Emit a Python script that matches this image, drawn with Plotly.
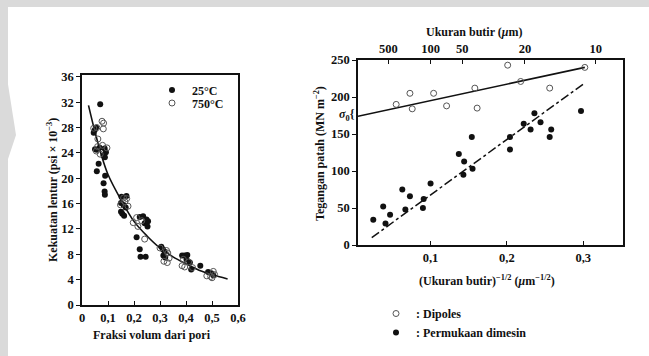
import plotly.graph_objects as go

W, H = 649, 356

# ---------------- Left chart data ----------------
fill_x = [0.070, 0.049, 0.054, 0.045, 0.050, 0.057, 0.068, 0.087, 0.092, 0.083, 0.088, 0.064, 0.057,
          0.089, 0.083, 0.087, 0.088, 0.152, 0.171, 0.150, 0.160, 0.168, 0.150, 0.155, 0.162, 0.222,
          0.235, 0.248, 0.241, 0.254, 0.252, 0.210, 0.222, 0.225, 0.245, 0.305, 0.311, 0.318, 0.313,
          0.320, 0.385, 0.395, 0.405, 0.402, 0.415, 0.420, 0.455, 0.485, 0.497, 0.505]
fill_y = [31.7, 27.6, 28.0, 27.2, 24.6, 24.5, 24.8, 24.7, 24.1, 23.6, 23.3, 22.3, 21.1,
          20.4, 19.2, 17.9, 17.4, 17.1, 17.2, 16.1, 15.8, 15.4, 14.7, 14.4, 14.1, 13.9,
          14.0, 13.5, 12.9, 13.2, 12.4, 10.7, 8.8, 7.6, 7.6, 9.2, 8.8, 8.4, 7.8,
          7.5, 7.8, 7.8, 7.9, 7.2, 6.7, 5.6, 6.2, 5.2, 5.0, 4.7]

open_x = [0.045, 0.057, 0.077, 0.083, 0.082, 0.061, 0.060, 0.079, 0.096, 0.070, 0.055, 0.160,
          0.165, 0.177, 0.172, 0.148, 0.197, 0.215, 0.230, 0.210, 0.241, 0.325, 0.330, 0.315,
          0.328, 0.335, 0.300, 0.385, 0.395, 0.410, 0.425, 0.390, 0.480, 0.495, 0.505, 0.510, 0.500]
open_y = [27.9, 28.0, 29.0, 28.7, 27.8, 26.2, 25.0, 25.2, 24.8, 23.8, 24.3, 16.9,
          16.3, 15.6, 16.8, 15.8, 13.0, 12.4, 13.3, 13.8, 10.4, 8.6, 8.2, 6.9,
          6.7, 7.4, 9.0, 6.2, 6.0, 6.8, 5.9, 7.2, 4.6, 4.5, 5.3, 4.8, 4.3]

curve_x = [0.025, 0.05, 0.075, 0.1, 0.15, 0.2, 0.25, 0.3, 0.35, 0.4, 0.45, 0.5, 0.56]
curve_y = [31.5, 27.3, 23.6, 20.6, 16.6, 13.2, 10.9, 9.0, 7.6, 6.5, 5.5, 4.8, 4.1]

left_xticks = [0, 0.1, 0.2, 0.3, 0.4, 0.5, 0.6]
left_yticks = [0, 4, 8, 12, 16, 20, 24, 28, 32, 36]

# ---------------- Right chart data ----------------
dip_x = [0.055, 0.073, 0.076, 0.104, 0.121, 0.158, 0.161, 0.201, 0.218, 0.256, 0.302]
dip_y = [190, 205, 184, 205, 188, 212, 185, 243, 221, 212, 240]

mach_x = [0.025, 0.038, 0.041, 0.047, 0.063, 0.067, 0.073, 0.091, 0.090, 0.100,
          0.137, 0.144, 0.143, 0.154, 0.155, 0.204, 0.204, 0.222, 0.231, 0.236,
          0.244, 0.256, 0.258, 0.297]
mach_y = [34, 52, 29, 41, 75, 48, 66, 62, 50, 83,
          123, 113, 95, 146, 103, 146, 129, 164, 156, 178,
          166, 146, 156, 181]

dip_line_x = [0.005, 0.302]
dip_line_y = [174, 240]
mach_line_x = [0.023, 0.302]
mach_line_y = [10, 219]

right_xticks = [0.1, 0.2, 0.3]
right_yticks = [0, 50, 100, 150, 200, 250]
grain_sizes = [500, 100, 50, 20, 10]
grain_labels = ["500", "100", "50", "20", "10"]

FONT = "Liberation Serif"
INK = "#111111"
SCAN_GREY = "#dadada"


def px(x):
    return x / W


def py(y):
    return 1 - y / H


fig = go.Figure()

# left chart
fig.add_trace(go.Scatter(x=curve_x, y=curve_y, mode="lines", line=dict(color=INK, width=1.6, shape="spline"),
                         showlegend=False, xaxis="x", yaxis="y", hoverinfo="skip"))
fig.add_trace(go.Scatter(x=fill_x, y=fill_y, mode="markers", name="25°C",
                         marker=dict(symbol="circle", size=6, color=INK), xaxis="x", yaxis="y", legend="legend"))
fig.add_trace(go.Scatter(x=open_x, y=open_y, mode="markers", name="750°C",
                         marker=dict(symbol="circle-open", size=6, color="#555555", line=dict(width=1)),
                         xaxis="x", yaxis="y", legend="legend2"))

# right chart
fig.add_trace(go.Scatter(x=dip_line_x, y=dip_line_y, mode="lines", line=dict(color=INK, width=1.6),
                         showlegend=False, xaxis="x2", yaxis="y2", hoverinfo="skip"))
fig.add_trace(go.Scatter(x=mach_line_x, y=mach_line_y, mode="lines", line=dict(color=INK, width=1.5, dash="dashdot"),
                         showlegend=False, xaxis="x2", yaxis="y2", hoverinfo="skip"))
fig.add_trace(go.Scatter(x=dip_x, y=dip_y, mode="markers", name=": Dipoles",
                         marker=dict(symbol="circle-open", size=6, color="#555555", line=dict(width=1)),
                         xaxis="x2", yaxis="y2", legend="legend3"))
fig.add_trace(go.Scatter(x=mach_x, y=mach_y, mode="markers", name=": Permukaan dimesin",
                         marker=dict(symbol="circle", size=6, color=INK), xaxis="x2", yaxis="y2", legend="legend3"))
# invisible trace to activate the top (grain size) axis
fig.add_trace(go.Scatter(x=[g ** -0.5 for g in grain_sizes], y=[None] * len(grain_sizes), mode="markers",
                         showlegend=False, xaxis="x3", yaxis="y2", hoverinfo="skip"))

tickfont = dict(family=FONT, size=12.5, color=INK, weight="bold")
axis_common = dict(showline=True, linecolor=INK, linewidth=1.5, showgrid=False, zeroline=False,
                   ticklen=4, tickwidth=1.2, tickcolor=INK, tickfont=tickfont, automargin=False)

left_x_range = [0, 0.6]
right_x_range = [0.005, 0.352]

fig.update_layout(
    template="none",
    width=W, height=H,
    margin=dict(l=0, r=0, t=0, b=0, pad=0, autoexpand=False),
    paper_bgcolor="white",
    plot_bgcolor="rgba(0,0,0,0)",
    separators=",.",
    font=dict(family=FONT, color=INK),
    xaxis=dict(domain=[px(82), px(238)], range=left_x_range, tickvals=left_xticks, ticks="inside",
               mirror=True, anchor="y", **axis_common),
    yaxis=dict(domain=[py(305), py(75)], range=[0, 36.3], tickvals=left_yticks, ticks="outside",
               mirror=True, anchor="x", **axis_common),
    xaxis2=dict(domain=[px(358), px(623)], range=right_x_range, tickvals=right_xticks, ticks="inside",
                mirror=False, anchor="y2", **axis_common),
    yaxis2=dict(domain=[py(245), py(60)], range=[0, 250], tickvals=right_yticks, ticks="outside",
                mirror=True, anchor="x2", **axis_common),
    xaxis3=dict(overlaying="x2", side="top", anchor="y2", range=right_x_range,
                tickvals=[g ** -0.5 for g in grain_sizes], ticktext=grain_labels, ticks="inside", **axis_common),
    shapes=[
        # scanned-page grey border (top and left) and watermark notch
        dict(type="rect", xref="paper", yref="paper", x0=0, x1=1, y0=py(7), y1=1,
             fillcolor=SCAN_GREY, line=dict(width=0), layer="below"),
        dict(type="rect", xref="paper", yref="paper", x0=0, x1=px(8), y0=0, y1=1,
             fillcolor=SCAN_GREY, line=dict(width=0), layer="below"),
        dict(type="path", xref="paper", yref="paper",
             path=f"M {px(7)},{py(78)} L {px(16)},{py(135)} L {px(7)},{py(162)} Z",
             fillcolor=SCAN_GREY, line=dict(width=0), layer="below"),
    ],
)

legend_common = dict(bgcolor="rgba(0,0,0,0)", borderwidth=0, xanchor="left", yanchor="middle",
                     font=dict(family=FONT, size=12, color=INK, weight="bold"), itemwidth=30,
                     itemclick=False, itemdoubleclick=False)
fig.update_layout(
    legend=dict(x=px(152), y=py(90), **legend_common),
    legend2=dict(x=px(152), y=py(103), **legend_common),
    legend3=dict(x=px(376), y=py(323), tracegroupgap=0, **legend_common),
)

ann_font = dict(family=FONT, size=12, color=INK, weight="bold")
annotations = [
    dict(text="Kekuatan lentur (psi × 10<sup>−3</sup>)", x=px(52), y=py(190), textangle=-90),
    dict(text="Fraksi volum dari pori", x=px(152), y=py(335)),
    dict(text="Tegangan patah (MN m<sup>−2</sup>)", x=px(319), y=py(154), textangle=-90),
    dict(text="Ukuran butir (<i>μ</i>m)", x=px(474), y=py(32)),
    dict(text="(Ukuran butir)<sup>−1/2</sup> (<i>μ</i>m<sup>−1/2</sup>)", x=px(487), y=py(280)),
    dict(text="<i>σ</i><sub>0</sub>{", x=px(357), y=py(115), xanchor="right"),
]
for a in annotations:
    a.setdefault("xanchor", "center")
    fig.add_annotation(xref="paper", yref="paper", yanchor="middle", showarrow=False, font=ann_font, **a)

fig.write_html(
    "out.html",
    config={"displayModeBar": False, "responsive": False},
    post_script=(
        "document.documentElement.style.margin='0px';"
        "document.documentElement.style.overflow='hidden';"
        "document.body.style.margin='0px';"
        "document.body.style.padding='0px';"
        "document.body.style.overflow='hidden';"
    ),
)
